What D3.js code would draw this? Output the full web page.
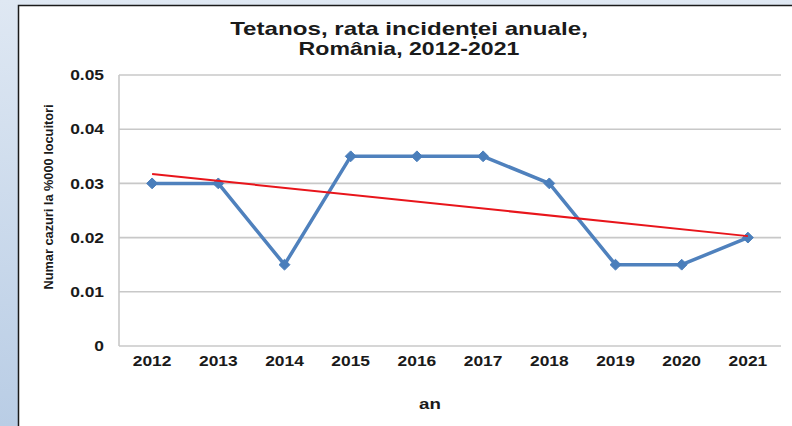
<!DOCTYPE html>
<html>
<head>
<meta charset="utf-8">
<script src="https://cdn.jsdelivr.net/npm/d3@7"></script>
<style>
  html, body { margin: 0; padding: 0; }
  body { width: 792px; height: 426px; overflow: hidden; }
  svg { display: block; }
  text { font-family: Arial, "Liberation Sans", sans-serif; font-weight: bold; fill: #1a1a1a; }
</style>
</head>
<body>
<svg id="chart" width="792" height="426"></svg>
<script>
// Tetanus annual incidence rate, Romania (cases per 100,000 inhabitants)
const years = ["2012", "2013", "2014", "2015", "2016", "2017", "2018", "2019", "2020", "2021"];
const rates = [0.03, 0.03, 0.015, 0.035, 0.035, 0.035, 0.03, 0.015, 0.015, 0.02];
const yTicks = [0, 0.01, 0.02, 0.03, 0.04, 0.05];
const yTickLabels = ["0", "0.01", "0.02", "0.03", "0.04", "0.05"];
const titleLines = ["Tetanos, rata incidenței anuale,", "România, 2012-2021"];
const yTitle = "Numar cazuri la %000 locuitori";
const xTitle = "an";

const FONT = "Arial, 'Liberation Sans', sans-serif";
const WIDEN = 1.2;   // horizontal stretch applied to label text

const svg = d3.select("#chart");

// page backdrop: pale blue frame with gradient
const defs = svg.append("defs");
const grad = defs.append("linearGradient").attr("id", "bg").attr("x1", 0).attr("y1", 0).attr("x2", 0).attr("y2", 1);
grad.append("stop").attr("offset", "0%").attr("stop-color", "#dfe8f3");
grad.append("stop").attr("offset", "100%").attr("stop-color", "#b9cde5");
svg.append("rect").attr("width", 792).attr("height", 426).attr("fill", "url(#bg)");

// white chart panel
svg.append("rect").attr("x", 18.5).attr("y", 5.5).attr("width", 800).attr("height", 440)
  .attr("fill", "#ffffff").attr("stroke", "#1a1a1a").attr("stroke-width", 1.5);

const plot = { left: 119, right: 781, top: 75, bottom: 346 };

const x = d3.scaleBand().domain(years).range([plot.left, plot.right]);
const y = d3.scaleLinear().domain([0, 0.05]).range([plot.bottom, plot.top]);

// horizontal gridlines
svg.append("g").selectAll("line").data(yTicks).join("line")
  .attr("x1", plot.left).attr("x2", plot.right)
  .attr("y1", d => y(d)).attr("y2", d => y(d))
  .attr("stroke", "#c8c8c8").attr("stroke-width", 1.6);

// left axis line
svg.append("line").attr("x1", plot.left).attr("x2", plot.left)
  .attr("y1", plot.top).attr("y2", plot.bottom)
  .attr("stroke", "#c8c8c8").attr("stroke-width", 1.6);

function widen(sel) {
  sel.each(function () {
    const tx = +this.getAttribute("x") || 0;
    this.setAttribute("x", 0);
    this.setAttribute("transform", `translate(${tx},0) scale(${WIDEN},1)`);
  });
}

// y axis labels
const yAxis = d3.axisLeft(y).tickValues(yTicks).tickFormat((d, i) => yTickLabels[i]).tickSize(0).tickPadding(15);
const gy = svg.append("g").attr("transform", `translate(${plot.left},0)`).call(yAxis);
gy.select(".domain").remove();
gy.selectAll("text").style("font-size", "14.5px").style("font-family", FONT)
  .style("font-weight", "bold").attr("fill", "#1a1a1a").call(widen);

// x axis labels
const xAxis = d3.axisBottom(x).tickSize(0).tickPadding(10);
const gx = svg.append("g").attr("transform", `translate(0,${plot.bottom})`).call(xAxis);
gx.select(".domain").remove();
gx.selectAll("text").style("font-size", "14.5px").style("font-family", FONT)
  .style("font-weight", "bold").attr("fill", "#1a1a1a").call(widen);

// data line
const line = d3.line().x((d, i) => x(years[i]) + x.bandwidth() / 2).y(d => y(d));
svg.append("path").datum(rates).attr("d", line)
  .attr("fill", "none").attr("stroke", "#4f81bd").attr("stroke-width", 3.5)
  .attr("stroke-linejoin", "round");

// diamond markers
svg.append("g").selectAll("path").data(rates).join("path")
  .attr("d", d3.symbol().type(d3.symbolDiamond2).size(75))
  .attr("transform", (d, i) => `translate(${x(years[i]) + x.bandwidth() / 2},${y(d)})`)
  .attr("fill", "#4a7ebb").attr("stroke", "#4a7ebb").attr("stroke-width", 1);

// linear trend (least squares over year index)
const n = rates.length;
const idx = d3.range(n);
const mx = d3.mean(idx), my = d3.mean(rates);
const slope = d3.sum(idx, i => (i - mx) * (rates[i] - my)) / d3.sum(idx, i => (i - mx) ** 2);
const intercept = my - slope * mx;
svg.append("line")
  .attr("x1", x(years[0]) + x.bandwidth() / 2).attr("y1", y(intercept))
  .attr("x2", x(years[n - 1]) + x.bandwidth() / 2).attr("y2", y(intercept + slope * (n - 1)))
  .attr("stroke", "#e8151b").attr("stroke-width", 2);

// titles
titleLines.forEach((t, i) => {
  svg.append("text").attr("transform", `translate(409,${34.5 + i * 20.5}) scale(${i === 0 ? 1.38 : 1.32},1)`)
    .attr("text-anchor", "middle").style("font-size", "17.5px").text(t);
});

svg.append("text").attr("transform", "translate(53,197) rotate(-90)").attr("text-anchor", "middle")
  .style("font-size", "12.5px").attr("textLength", 185).attr("lengthAdjust", "spacingAndGlyphs").text(yTitle);

svg.append("text").attr("transform", "translate(430,409) scale(1.25,1)").attr("text-anchor", "middle")
  .style("font-size", "15px").text(xTitle);
</script>
</body>
</html>
